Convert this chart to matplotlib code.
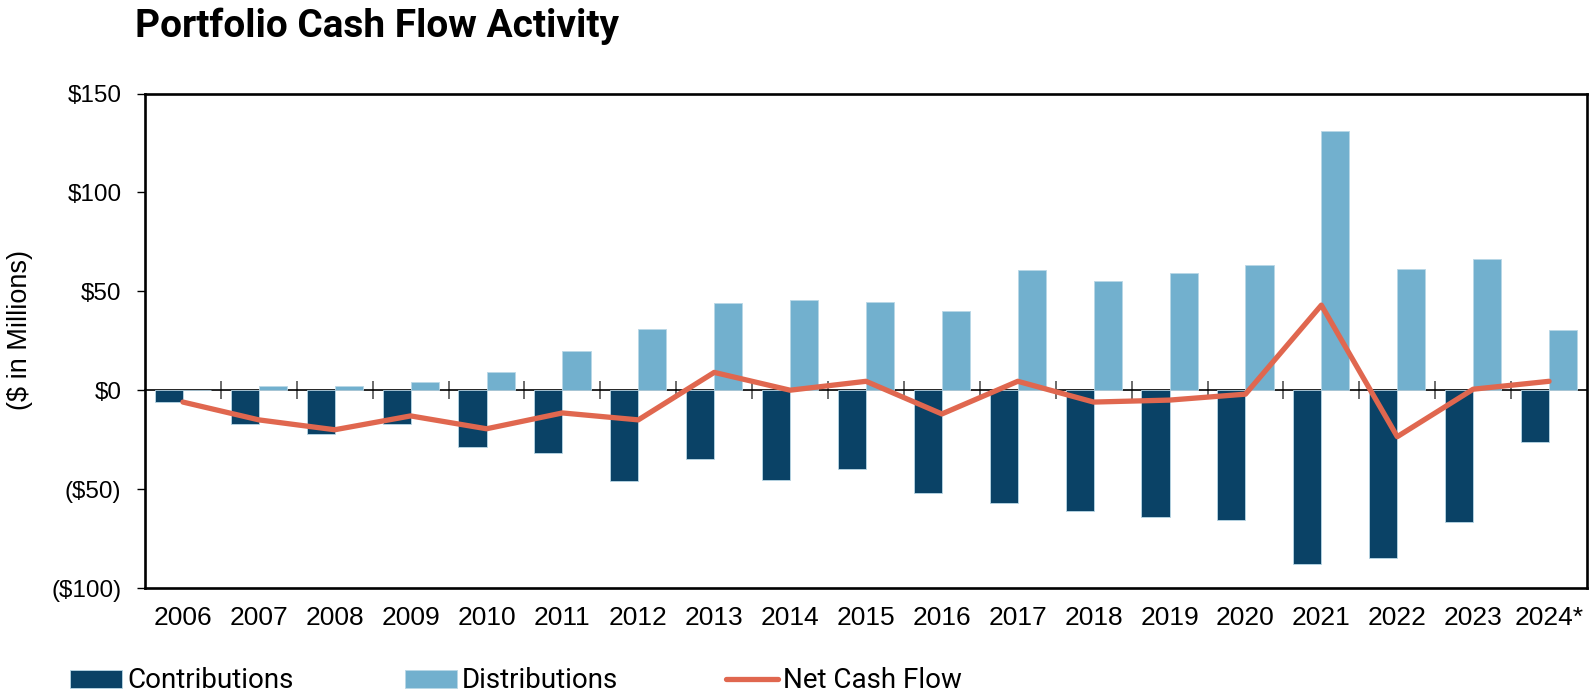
import numpy as np
import matplotlib
matplotlib.use("Agg")
import matplotlib.pyplot as plt
from matplotlib.ticker import FuncFormatter, FixedLocator

years = ['2006', '2007', '2008', '2009', '2010', '2011', '2012', '2013', '2014', '2015',
         '2016', '2017', '2018', '2019', '2020', '2021', '2022', '2023', '2024*']
contributions = [-6, -17, -22, -17, -28.5, -31.5, -46, -35, -45.5, -40,
                 -52, -57, -61, -64, -65.5, -88, -85, -66.5, -26]
distributions = [0, 2, 2, 4, 9, 20, 31, 44, 45.5, 44.5,
                 40, 61, 55, 59, 63.5, 131, 61.5, 66.5, 30.5]
net_cash_flow = [-6, -15, -20, -13, -19.5, -11.5, -15, 9, 0, 4.5,
                 -12, 4.5, -6, -5, -2, 43, -23.5, 0.5, 4.5]

dark = '#0a4266'
light = '#72b0ce'
red = '#e0674f'

plt.rcParams['font.family'] = ['Liberation Sans', 'DejaVu Sans']

fig = plt.figure(figsize=(15.93, 6.96), dpi=100)
ax = fig.add_axes([145 / 1593, 1 - 588 / 696, (1587 - 145) / 1593, (588 - 93.5) / 696])

x = np.arange(len(years))
w = 0.37
ax.bar(x - w / 2, contributions, w, color=dark, edgecolor='#b9d7e6', linewidth=0.6,
       label='Contributions', zorder=2)
ax.bar(x + w / 2, distributions, w, color=light, edgecolor='#b9d7e6', linewidth=0.6,
       label='Distributions', zorder=2)
ax.plot(x, net_cash_flow, color=red, lw=3.8, label='Net Cash Flow', zorder=4,
        solid_capstyle='round')

ax.set_xlim(-0.5, len(years) - 0.5)
ax.set_ylim(-100, 150)
ax.set_yticks([-100, -50, 0, 50, 100, 150])
ax.yaxis.set_major_formatter(FuncFormatter(
    lambda v, p: f'${v:.0f}' if v >= 0 else f'(${-v:.0f})'))
ax.set_xticks(x)
ax.set_xticklabels(years)
ax.tick_params(axis='x', length=0, pad=13, labelsize=19)
ax.tick_params(axis='y', length=6, width=1, pad=11, labelsize=17.5, direction='out')

for s in ax.spines.values():
    s.set_linewidth(1.9)
    s.set_color('black')

# zero line with category-boundary ticks
zero = ax.secondary_xaxis((0 - (-100)) / 250)
zero.xaxis.set_major_locator(FixedLocator(x[:-1] + 0.5))
zero.tick_params(axis='x', direction='inout', length=13, width=1.1, color='#444444',
                 labelbottom=False, labeltop=False)
zero.spines['bottom'].set_linewidth(1.2)
zero.spines['top'].set_linewidth(1.2)

fig.text(20 / 1593, 1 - 330 / 696, '($ in Millions)', rotation=90, ha='center',
         va='center', fontsize=19.5)

fig.text(135 / 1593, 1 - 26 / 696, 'Portfolio Cash Flow Activity', fontsize=28,
         fontweight='bold', family='Roboto', ha='left', va='center')

handles, labels = ax.get_legend_handles_labels()
order = {'Contributions': 70, 'Distributions': 405, 'Net Cash Flow': 726}
for h, l in zip(handles, labels):
    fig.legend([h], [l], loc='center left', bbox_to_anchor=(order[l] / 1593, 1 - 681 / 696),
               frameon=False, borderpad=0, borderaxespad=0, handlelength=1.87,
               handletextpad=0.18, handleheight=0.6,
               prop={'family': 'Roboto', 'size': 20})

fig.savefig('out.png', dpi=100)
